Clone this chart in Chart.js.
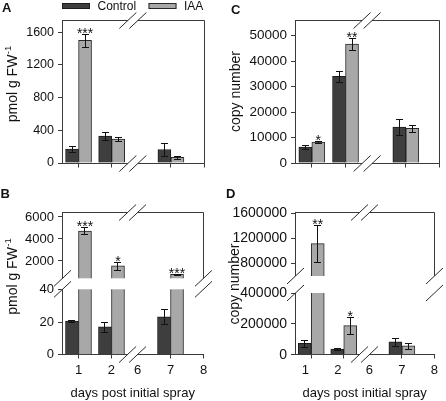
<!DOCTYPE html>
<html><head><meta charset="utf-8">
<script src="https://cdn.jsdelivr.net/npm/chart.js"></script>
<style>
html,body{margin:0;padding:0;background:#fff;}
body{width:446px;height:401px;position:relative;overflow:hidden;}
canvas{position:absolute;}
</style></head><body>
<canvas id="cA" width="223" height="185" style="left:0;top:0"></canvas>
<canvas id="cC" width="223" height="185" style="left:223px;top:0"></canvas>
<canvas id="cB" width="223" height="216" style="left:0;top:185px"></canvas>
<canvas id="cD" width="223" height="216" style="left:223px;top:185px"></canvas>
<script>
// ---------------- data ----------------
const days = [1, 2, 7];
const axisDays = [1, 2, 6, 7, 8];
const tickDays = [1, 2, 7, 8];
const seriesNames = ["Control", "IAA"];
const xTitle = "days post initial spray";
const yTitleAB = ["pmol g FW", "-1"];
const yTitleCD = ["copy number", ""];

// Panel A
const aControl = [171, 330, 165];
const aControlErr = [35, 45, 85];
const aIAA = [1500, 294, 68];
const aIAAErr = [78, 27, 20];
const aSigIAA = ["***", "", ""];
const aTicks = [0, 400, 800, 1200, 1600];

// Panel B
const bControl = [20.6, 17, 23.2];
const bControlErr = [0.8, 3, 4.6];
const bIAA = [4730, 1550, 790];
const bIAAErr = [320, 330, 35];
const bSigIAA = ["***", "*", "***"];
const bTicks = [0, 20, 40, 2000, 4000, 6000];

// Panel C
const cControl = [6300, 34100, 14100];
const cControlErr = [900, 2150, 3100];
const cIAA = [8200, 46700, 13600];
const cIAAErr = [350, 2300, 1500];
const cSigIAA = ["*", "**", ""];
const cTicks = [0, 10000, 20000, 30000, 40000, 50000];

// Panel D
const dControl = [73000, 37000, 83000];
const dControlErr = [21000, 7000, 25000];
const dIAA = [1115000, 189000, 58000];
const dIAAErr = [290000, 57000, 21000];
const dSigIAA = ["**", "*", ""];
const dTicks = [0, 200000, 400000, 800000, 1200000, 1600000];

// ---------------- styling / axis helpers ----------------
const FONT = "'Liberation Sans', Arial, Helvetica, sans-serif";
const INK = '#111';
const AXIS = '#3a3a3a';
const CONTROL_FILL = '#3e3e3e', CONTROL_LINE = '#1c1c1c';
const IAA_FILL = '#a8a8a8', IAA_LINE = '#2a2a2a';
Chart.defaults.font.family = FONT;

// broken x axis: days after the break are pulled closer
const pos = d => (d <= 2 ? d : d - 3.21);
const X_MIN = 0.5, X_MAX = pos(8), BREAK_X = 2.64;

// broken y axis helper
function makeMap(seg) {
  if (seg.highMin === undefined) return { t: v => v, max: seg.max };
  const total = seg.lowPx + seg.gapPx + seg.highPx;
  return {
    t: v => v <= seg.lowMax ? v / seg.lowMax * seg.lowPx
          : seg.lowPx + seg.gapPx + (v - seg.highMin) / (seg.highMax - seg.highMin) * seg.highPx,
    max: total, gapLo: seg.lowPx, gapHi: seg.lowPx + seg.gapPx
  };
}

const panels = {
  cA: { letter: 'A', lx: 2, ly: 12, yTitle: yTitleAB, tx: 16.5, ty: 84,
        control: aControl, controlErr: aControlErr, iaa: aIAA, iaaErr: aIAAErr, sig: aSigIAA,
        ticks: aTicks, seg: { max: 1750 }, padTop: 20, padRight: 19, yW: 62, xH: 22,
        showX: false, tickSize: 12.5, legend: true },
  cC: { letter: 'C', lx: 8, ly: 14, yTitle: yTitleCD, tx: 16.5, ty: 91.5,
        control: cControl, controlErr: cControlErr, iaa: cIAA, iaaErr: cIAAErr, sig: cSigIAA,
        ticks: cTicks, seg: { max: 56200 }, padTop: 20, padRight: 6.5, yW: 72, xH: 22,
        showX: false, tickSize: 13.5 },
  cB: { letter: 'B', lx: 0.5, ly: 13, yTitle: yTitleAB, tx: 16.5, ty: 91.5,
        control: bControl, controlErr: bControlErr, iaa: bIAA, iaaErr: bIAAErr, sig: bSigIAA,
        ticks: bTicks, seg: { lowMax: 40, lowPx: 65.4, gapPx: 11, highMin: 427, highMax: 6409, highPx: 65.8 },
        padTop: 27.5, padRight: 19.5, yW: 62, xH: 46.3, showX: true, tickSize: 13,
        labelShift: [0, 0, 0, 0, 0] },
  cD: { letter: 'D', lx: 3, ly: 13, yTitle: yTitleCD, tx: 15.5, ty: 99,
        control: dControl, controlErr: dControlErr, iaa: dIAA, iaaErr: dIAAErr, sig: dSigIAA,
        ticks: dTicks, seg: { lowMax: 400000, lowPx: 61.7, gapPx: 17, highMin: 600000, highMax: 1611950, highPx: 63.5 },
        padTop: 27.5, padRight: 6.5, yW: 72, xH: 46.3, showX: true, tickSize: 14,
        labelShift: [-0.18, -0.18, 0, 0, 0] }
};

const al = v => Math.round(v - 0.5) + 0.5;

function slash(ctx, cx, cy) {
  ctx.beginPath();
  ctx.moveTo(cx - 8.5, cy + 8);
  ctx.lineTo(cx + 8.5, cy - 8);
  ctx.stroke();
}

const extras = {
  id: 'extras',
  afterDatasetsDraw(chart) {
    const p = panels[chart.canvas.id], m = p.map;
    const ctx = chart.ctx, ca = chart.chartArea, xs = chart.scales.x, ys = chart.scales.y;
    ctx.save();
    let yHi = null, yLo = null;
    if (m.gapHi !== undefined) {
      yHi = ys.getPixelForValue(m.gapHi);
      yLo = ys.getPixelForValue(m.gapLo);
      ctx.fillStyle = '#fff';
      ctx.fillRect(ca.left - 1, yHi, ca.right - ca.left + 2, yLo - yHi);
    }
    // error bars + significance stars
    const series = [[p.control, p.controlErr, null], [p.iaa, p.iaaErr, p.sig]];
    ctx.strokeStyle = INK; ctx.lineWidth = 1;
    series.forEach((s, k) => {
      const meta = chart.getDatasetMeta(k);
      s[0].forEach((v, j) => {
        const x = al(meta.data[j].x);
        const yt = Math.round(ys.getPixelForValue(m.t(v + s[1][j]))) + 0.5;
        const yb = Math.round(ys.getPixelForValue(m.t(v - s[1][j]))) + 0.5;
        ctx.beginPath();
        ctx.moveTo(x, yt); ctx.lineTo(x, yb);
        ctx.moveTo(x - 3.5, yt); ctx.lineTo(x + 3.5, yt);
        ctx.moveTo(x - 3.5, yb); ctx.lineTo(x + 3.5, yb);
        ctx.stroke();
        if (s[2] && s[2][j]) {
          ctx.fillStyle = INK;
          ctx.font = '14px ' + FONT;
          ctx.textAlign = 'center'; ctx.textBaseline = 'alphabetic';
          ctx.fillText(s[2][j], meta.data[j].x, yt + 3.5);
        }
      });
    });
    // frame and break marks
    const bx = xs.getPixelForValue(BREAK_X);
    const s1 = bx - 5, s2 = bx + 5;
    const top = al(ca.top), bot = al(ca.bottom), lft = al(ca.left), rgt = al(ca.right);
    ctx.strokeStyle = AXIS; ctx.lineWidth = 1;
    ctx.beginPath();
    ctx.moveTo(lft, top); ctx.lineTo(s1, top);
    ctx.moveTo(s2, top); ctx.lineTo(rgt, top);
    ctx.lineTo(rgt, yHi === null ? bot : yHi);
    ctx.stroke();
    ctx.fillStyle = '#fff';
    ctx.fillRect(s1, ca.bottom - 1, s2 - s1, 3);
    // x tick marks at day positions
    ctx.beginPath();
    tickDays.forEach(d => {
      const x = al(xs.getPixelForValue(pos(d)));
      ctx.moveTo(x, bot); ctx.lineTo(x, bot + 4);
    });
    ctx.stroke();
    ctx.strokeStyle = '#2a2a2a';
    slash(ctx, s1, top); slash(ctx, s2, top);
    slash(ctx, s1, bot); slash(ctx, s2, bot);
    if (yHi !== null) {
      slash(ctx, lft, yHi); slash(ctx, lft, yLo);
      slash(ctx, rgt, yHi); slash(ctx, rgt, yLo);
    }
    ctx.restore();
  },
  afterDraw(chart) {
    const p = panels[chart.canvas.id];
    const ctx = chart.ctx;
    ctx.save();
    ctx.fillStyle = INK;
    ctx.font = 'bold 13px ' + FONT;
    ctx.textAlign = 'left'; ctx.textBaseline = 'alphabetic';
    ctx.fillText(p.letter, p.lx, p.ly);
    // rotated y-axis title (with optional superscript)
    ctx.save();
    ctx.translate(p.tx, p.ty);
    ctx.rotate(-Math.PI / 2);
    ctx.font = '14px ' + FONT;
    const w1 = ctx.measureText(p.yTitle[0]).width;
    ctx.font = '9.5px ' + FONT;
    const w2 = p.yTitle[1] ? ctx.measureText(p.yTitle[1]).width + 0.5 : 0;
    const x0 = -(w1 + w2) / 2;
    ctx.font = '14px ' + FONT;
    ctx.fillText(p.yTitle[0], x0, 0);
    if (p.yTitle[1]) {
      ctx.font = '9.5px ' + FONT;
      ctx.fillText(p.yTitle[1], x0 + w1 + 0.5, -5.5);
    }
    ctx.restore();
    if (p.legend) {
      const items = [[seriesNames[0], CONTROL_FILL, CONTROL_LINE, 62], [seriesNames[1], IAA_FILL, IAA_LINE, 148.5]];
      ctx.font = '12px ' + FONT;
      ctx.textBaseline = 'middle';
      items.forEach(([name, fill, line, x]) => {
        ctx.fillStyle = fill; ctx.fillRect(x, 3, 28, 6);
        ctx.strokeStyle = line; ctx.lineWidth = 1; ctx.strokeRect(x + 0.5, 3.5, 27, 5);
        ctx.fillStyle = INK; ctx.fillText(name, x + 35.5, 6.5);
      });
    }
    ctx.restore();
  }
};

function build(id) {
  const p = panels[id];
  const m = makeMap(p.seg);
  p.map = m;
  const mk = (vals, name, fill, line) => ({
    label: name,
    data: days.map((d, i) => ({ x: pos(d), y: m.t(vals[i]) })),
    backgroundColor: fill, borderColor: line, borderWidth: 1,
    barThickness: 13, borderSkipped: 'start'
  });
  new Chart(document.getElementById(id), {
    type: 'bar',
    data: { datasets: [mk(p.control, seriesNames[0], CONTROL_FILL, CONTROL_LINE), mk(p.iaa, seriesNames[1], IAA_FILL, IAA_LINE)] },
    options: {
      responsive: false, animation: false, devicePixelRatio: 1,
      layout: { padding: { left: 0, top: p.padTop, right: p.padRight, bottom: 0 } },
      plugins: { legend: { display: false }, tooltip: { enabled: false } },
      scales: {
        x: {
          type: 'linear', min: X_MIN, max: X_MAX, offset: false,
          afterFit: s => { s.height = p.xH; },
          afterBuildTicks: s => { s.ticks = axisDays.map((d, i) => ({ value: pos(d) + (p.labelShift ? p.labelShift[i] : 0) })); },
          ticks: { display: p.showX, autoSkip: false, maxRotation: 0, padding: 8, color: INK,
                   font: { size: 13 }, callback: (v, i) => String(axisDays[i]) },
          grid: { display: false, drawTicks: false, offset: false },
          border: { display: true, color: AXIS, width: 1 },
          title: { display: p.showX, text: xTitle, color: INK, font: { size: 13 }, padding: { top: 0, bottom: 0 } }
        },
        y: {
          type: 'linear', min: 0, max: m.max,
          afterFit: s => { s.width = p.yW; },
          afterBuildTicks: s => { s.ticks = p.ticks.map(v => ({ value: m.t(v) })); },
          ticks: { autoSkip: false, padding: 4, color: INK, font: { size: p.tickSize },
                   callback: (v, i) => String(p.ticks[i]) },
          grid: { drawOnChartArea: false, drawTicks: true, tickLength: 4, color: AXIS },
          border: { display: true, color: AXIS, width: 1 },
          title: { display: false }
        }
      }
    },
    plugins: [extras]
  });
}
['cA', 'cC', 'cB', 'cD'].forEach(build);
</script>
</body></html>
